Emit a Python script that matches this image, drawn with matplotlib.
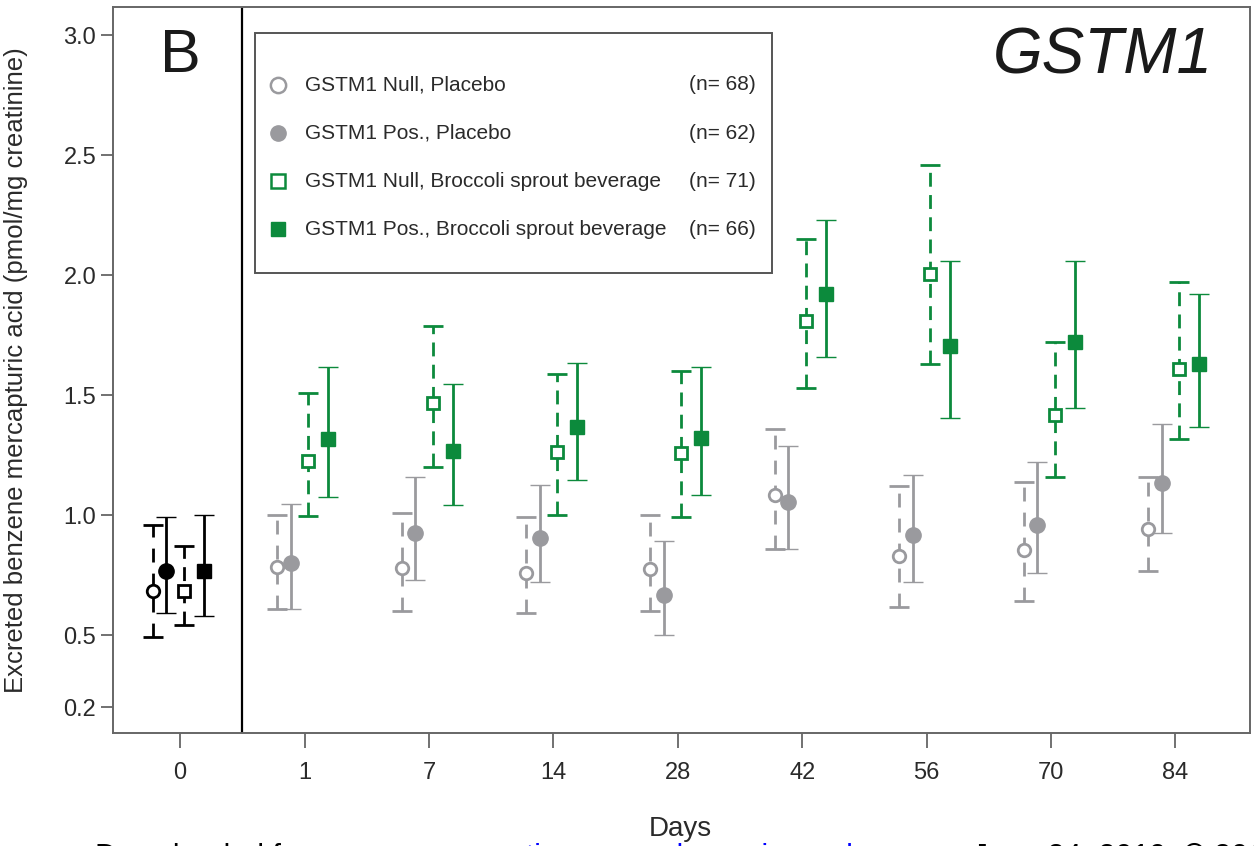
import matplotlib.pyplot as plt
from matplotlib.patches import Rectangle

plt.rcParams['font.family'] = ['Liberation Sans', 'DejaVu Sans']

days = ['0', '1', '7', '14', '28', '42', '56', '70', '84']

# GSTM1 Null, Placebo
null_pl = [0.683, 0.783, 0.78, 0.76, 0.775, 1.083, 0.83, 0.854, 0.942]
null_pl_lo = [0.49, 0.61, 0.60, 0.59, 0.60, 0.86, 0.617, 0.64, 0.767]
null_pl_hi = [0.96, 1.00, 1.01, 0.99, 1.00, 1.36, 1.12, 1.14, 1.16]

# GSTM1 Pos., Placebo
pos_pl = [0.767, 0.80, 0.925, 0.905, 0.667, 1.054, 0.917, 0.958, 1.133]
pos_pl_lo = [0.59, 0.61, 0.73, 0.72, 0.50, 0.858, 0.72, 0.76, 0.925]
pos_pl_hi = [0.99, 1.046, 1.16, 1.125, 0.89, 1.29, 1.167, 1.22, 1.38]

# GSTM1 Null, Broccoli sprout beverage
null_bsb = [0.683, 1.225, 1.467, 1.262, 1.258, 1.81, 2.004, 1.417, 1.61]
null_bsb_lo = [0.54, 0.996, 1.2, 1.0, 0.99, 1.53, 1.63, 1.16, 1.317]
null_bsb_hi = [0.87, 1.51, 1.79, 1.59, 1.6, 2.15, 2.46, 1.72, 1.97]

# GSTM1 Pos., Broccoli sprout beverage
pos_bsb = [0.767, 1.317, 1.267, 1.367, 1.32, 1.92, 1.704, 1.72, 1.63]
pos_bsb_lo = [0.58, 1.075, 1.04, 1.146, 1.083, 1.66, 1.404, 1.446, 1.367]
pos_bsb_hi = [1.0, 1.617, 1.546, 1.633, 1.617, 2.23, 2.06, 2.06, 1.92]

labels = ['GSTM1 Null, Placebo', 'GSTM1 Pos., Placebo',
          'GSTM1 Null, Broccoli sprout beverage', 'GSTM1 Pos., Broccoli sprout beverage']
n_counts = [68, 62, 71, 66]

GREY = '#9a9a9e'
GREEN = '#0c8a3c'
TXT = '#2a2a2a'

series = [
    (null_pl, null_pl_lo, null_pl_hi, -0.22, 'o', GREY, False, (0, (5, 4))),
    (pos_pl, pos_pl_lo, pos_pl_hi, -0.11, 'o', GREY, True, 'solid'),
    (null_bsb, null_bsb_lo, null_bsb_hi, 0.03, 's', GREEN, False, (0, (5, 3))),
    (pos_bsb, pos_bsb_lo, pos_bsb_hi, 0.19, 's', GREEN, True, 'solid'),
]

fig = plt.figure(figsize=(12.54, 8.46), dpi=100)
ax = fig.add_axes([0.0901, 0.1336, 0.9067, 0.858])

for mean, lo, hi, off, mk, col, filled, ls in series:
    for i in range(len(days)):
        c = 'black' if i == 0 else col
        if filled:
            ms = 11 if mk == 'o' else 10.5
        else:
            ms = 9
        eb = ax.errorbar(i + off, mean[i], yerr=[[mean[i] - lo[i]], [hi[i] - mean[i]]],
                         fmt=mk, color=c, ecolor=c, elinewidth=2, capsize=7, capthick=1.8,
                         markersize=ms, markeredgewidth=1 if filled else 2,
                         markerfacecolor=c if filled else 'white', markeredgecolor=c, zorder=3)
        eb[2][0].set_linestyle(ls)

ax.axvline(0.5, color='black', lw=1.6)

ax.set_xlim(-0.54, 8.6)
ax.set_ylim(0.092, 3.117)
ax.set_xticks(range(len(days)))
ax.set_xticklabels(days)
ax.set_yticks([0.2, 0.5, 1.0, 1.5, 2.0, 2.5, 3.0])
ax.set_yticklabels(['0.2', '0.5', '1.0', '1.5', '2.0', '2.5', '3.0'])
ax.tick_params(axis='y', length=9, width=1.3, color='#666666', labelsize=17, labelcolor=TXT, pad=3)
ax.tick_params(axis='x', length=11, width=1.3, color='#666666', labelsize=17, labelcolor=TXT, pad=10)
for s in ax.spines.values():
    s.set_color('#666666')
    s.set_linewidth(1.4)

ax.set_ylabel('Excreted benzene mercapturic acid (pmol/mg creatinine)', fontsize=18.5, color=TXT)
ax.yaxis.set_label_coords(-0.075, 0.5)
ax.set_xlabel('Days', fontsize=20, color=TXT)
ax.xaxis.set_label_coords(0.499, -0.115)

ax.text(0.059, 0.932, 'B', transform=ax.transAxes, fontsize=44, ha='center', va='center', color='#1a1a1a')
ax.text(0.967, 0.932, 'GSTM1', transform=ax.transAxes, fontsize=46, style='italic',
        ha='right', va='center', color='#1a1a1a')

# legend box
ax.add_patch(Rectangle((0.125, 0.634), 0.455, 0.33, transform=ax.transAxes,
                       fill=False, edgecolor='#555555', lw=1.4, zorder=4))
leg_y = [0.893, 0.826, 0.760, 0.694]
for (mean, lo, hi, off, mk, col, filled, ls), lab, n, y in zip(series, labels, n_counts, leg_y):
    ax.plot([0.145], [y], marker=mk, transform=ax.transAxes, color=col,
            markersize=11 if mk == 'o' else 10, markerfacecolor=col if filled else 'white',
            markeredgewidth=1 if filled else 1.8, clip_on=False, zorder=5)
    ax.text(0.169, y, lab, transform=ax.transAxes, fontsize=15, va='center', color=TXT)
    ax.text(0.565, y, '(n= %d)' % n, transform=ax.transAxes, fontsize=15, va='center',
            ha='right', color=TXT)

# watermark line, cut by the bottom edge like in the source image
renderer = fig.canvas.get_renderer()
x0 = 95
for piece, col in [('Downloaded from ', 'black'),
                   ('cancerpreventionresearch.aacrjournals.org', 'blue'),
                   (' on June 24, 2019. © 2014 American Association for Cancer Research.', 'black')]:
    t = fig.text(x0 / 1254, -0.0235, piece, fontsize=22, va='baseline', color=col)
    x0 += t.get_window_extent(renderer).width

fig.savefig('out.png', dpi=100)
